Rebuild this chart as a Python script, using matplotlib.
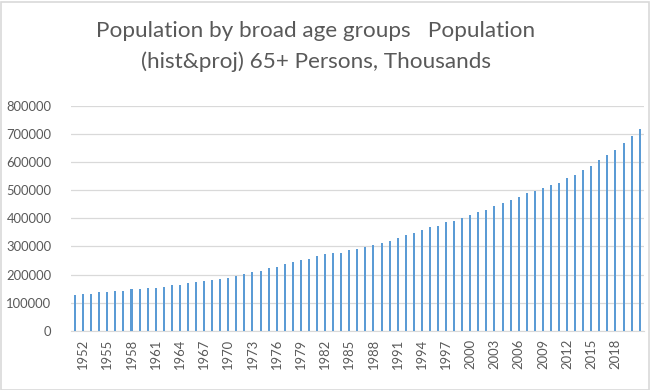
import matplotlib
matplotlib.use('Agg')
import matplotlib.pyplot as plt
from matplotlib.patches import Rectangle
import numpy as np

plt.rcParams['font.family'] = ['Lato', 'DejaVu Sans']

years = list(range(1951, 2022))
persons_65plus = [
    127500, 132000, 132000, 138000, 138000, 143000, 143000, 148000, 148000, 152500,
    152500, 157000, 162000, 162000, 169000, 175000, 178000, 181000, 185000, 189000,
    194000, 203500, 208500, 213000, 223000, 227500, 238000, 243000, 252500, 257000,
    267000, 271500, 276000, 276000, 286000, 290500, 296500, 306000, 311000, 320000,
    330000, 339000, 349000, 358500, 368000, 373000, 387000, 392000, 401000, 412000,
    421500, 431000, 445500, 455000, 464500, 475000, 489500, 499000, 508500, 518000,
    527500, 542000, 556000, 571500, 585500, 606000, 624000, 644000, 669000, 693000,
    717000,
]
tick_years = list(range(1952, 2019, 3))

title_color = '#595959'
tick_color = '#595959'
bar_color = '#5b9bd5'
grid_color = '#d9d9d9'

fig = plt.figure(figsize=(6.5, 3.9), dpi=100)
ax = fig.add_axes([71 / 650, 1 - 330.7 / 390, 572.7 / 650, 224.7 / 390])

ax.bar(years, persons_65plus, width=0.25, color=bar_color, linewidth=0, zorder=3)

ax.set_xlim(1950.5, 2021.5)
ax.set_ylim(0, 800000)
ax.set_yticks(np.arange(0, 800001, 100000))
ax.set_yticklabels([str(v) for v in range(0, 800001, 100000)])
ax.set_xticks(tick_years)
ax.set_xticklabels([str(y) for y in tick_years], rotation=90)

ax.grid(axis='y', color=grid_color, linewidth=0.9, zorder=0)
for side in ['top', 'right', 'left']:
    ax.spines[side].set_visible(False)
ax.spines['bottom'].set_color(grid_color)
ax.tick_params(axis='both', length=0, colors=tick_color, labelsize=9.4)
ax.tick_params(axis='y', pad=14)
ax.tick_params(axis='x', pad=6)

fig.text(316 / 650, 1 - 31 / 390, 'Population by broad age groups   Population',
         ha='center', va='center', fontsize=16.2, color=title_color)
fig.text(316 / 650, 1 - 61.5 / 390, '(hist&proj) 65+ Persons, Thousands',
         ha='center', va='center', fontsize=16.2, color=title_color)

fig.patches.append(Rectangle((0.5 / 650, 0.5 / 390), 648 / 650, 388 / 390,
                             transform=fig.transFigure, fill=False,
                             edgecolor=grid_color, linewidth=1.2))

fig.savefig('out.png', dpi=100)
